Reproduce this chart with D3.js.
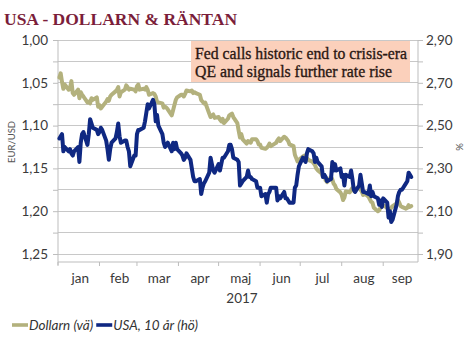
<!DOCTYPE html>
<html><head><meta charset="utf-8">
<script src="https://cdn.jsdelivr.net/npm/d3@7"></script>
<style>body{margin:0;background:#fff}svg{display:block}</style>
</head><body><svg id="c" width="475" height="348"></svg>
<script>
// ---- DATA ----
const dates = [
 "01-02","01-03","01-04","01-05","01-06","01-09","01-10","01-11","01-12","01-13","01-16","01-17","01-18","01-19","01-20","01-23","01-24","01-25","01-26","01-27","01-30","01-31",
 "02-01","02-02","02-03","02-06","02-07","02-08","02-09","02-10","02-13","02-14","02-15","02-16","02-17","02-20","02-21","02-22","02-23","02-24","02-27","02-28",
 "03-01","03-02","03-03","03-06","03-07","03-08","03-09","03-10","03-13","03-14","03-15","03-16","03-17","03-20","03-21","03-22","03-23","03-24","03-27","03-28","03-29","03-30","03-31",
 "04-03","04-04","04-05","04-06","04-07","04-10","04-11","04-12","04-13","04-14","04-17","04-18","04-19","04-20","04-21","04-24","04-25","04-26","04-27","04-28",
 "05-01","05-02","05-03","05-04","05-05","05-08","05-09","05-10","05-11","05-12","05-15","05-16","05-17","05-18","05-19","05-22","05-23","05-24","05-25","05-26","05-29","05-30","05-31",
 "06-01","06-02","06-05","06-06","06-07","06-08","06-09","06-12","06-13","06-14","06-15","06-16","06-19","06-20","06-21","06-22","06-23","06-26","06-27","06-28","06-29","06-30",
 "07-03","07-04","07-05","07-06","07-07","07-10","07-11","07-12","07-13","07-14","07-17","07-18","07-19","07-20","07-21","07-24","07-25","07-26","07-27","07-28","07-31",
 "08-01","08-02","08-03","08-04","08-07","08-08","08-09","08-10","08-11","08-14","08-15","08-16","08-17","08-18","08-21","08-22","08-23","08-24","08-25","08-28","08-29","08-30","08-31",
 "09-01","09-04","09-05","09-06","09-07","09-08","09-11","09-12","09-13","09-14","09-15","09-18","09-19","09-20","09-21","09-22"
];
const dollarn = [
 1.044,1.039,1.049,1.057,1.052,1.058,1.056,1.048,1.062,1.064,1.058,1.068,1.061,1.064,1.066,1.073,1.072,1.074,1.068,1.070,1.067,1.078,
 1.076,1.080,1.078,1.072,1.069,1.071,1.066,1.064,1.060,1.058,1.055,1.066,1.061,1.058,1.053,1.055,1.058,1.057,1.058,1.060,
 1.054,1.052,1.058,1.057,1.058,1.055,1.058,1.064,1.062,1.063,1.066,1.072,1.073,1.074,1.079,1.078,1.079,1.081,1.088,1.082,1.076,1.070,1.067,
 1.064,1.064,1.066,1.063,1.059,1.060,1.059,1.062,1.061,1.062,1.064,1.070,1.072,1.074,1.073,1.086,1.090,1.088,1.087,1.091,
 1.090,1.093,1.095,1.092,1.097,1.092,1.088,1.087,1.086,1.090,1.097,1.106,1.114,1.110,1.116,1.121,1.118,1.119,1.120,1.116,1.116,1.118,1.122,
 1.122,1.126,1.127,1.126,1.124,1.121,1.124,1.121,1.120,1.117,1.115,1.118,1.113,1.114,1.116,1.118,1.122,1.124,1.134,1.138,1.142,1.140,
 1.136,1.135,1.136,1.138,1.140,1.142,1.144,1.146,1.150,1.152,1.156,1.160,1.158,1.164,1.166,1.160,1.163,1.168,1.170,1.174,1.178,
 1.181,1.187,1.184,1.177,1.178,1.175,1.173,1.176,1.174,1.172,1.175,1.177,1.181,1.179,1.183,1.186,1.189,1.190,1.196,1.200,1.199,1.196,1.194,
 1.193,1.196,1.200,1.198,1.196,1.194,1.191,1.187,1.190,1.194,1.195,1.197,1.196,1.193,1.195,1.194
];
const usa10 = [
 2.44,2.45,2.46,2.38,2.40,2.38,2.39,2.37,2.36,2.38,2.40,2.33,2.42,2.46,2.47,2.41,2.46,2.53,2.51,2.49,2.48,2.46,
 2.47,2.49,2.48,2.43,2.39,2.34,2.39,2.42,2.44,2.47,2.51,2.45,2.42,2.43,2.43,2.40,2.38,2.31,2.36,2.36,
 2.46,2.48,2.48,2.49,2.52,2.56,2.60,2.58,2.62,2.60,2.52,2.55,2.50,2.46,2.42,2.40,2.41,2.42,2.38,2.42,2.39,2.42,2.39,
 2.37,2.36,2.34,2.35,2.37,2.34,2.30,2.26,2.24,2.24,2.25,2.18,2.21,2.23,2.24,2.28,2.35,2.32,2.29,2.28,
 2.32,2.29,2.32,2.35,2.35,2.38,2.41,2.41,2.39,2.35,2.34,2.33,2.22,2.23,2.24,2.26,2.29,2.26,2.26,2.25,2.24,2.21,2.21,
 2.21,2.17,2.18,2.14,2.18,2.19,2.21,2.21,2.21,2.15,2.17,2.16,2.19,2.16,2.16,2.15,2.14,2.14,2.21,2.22,2.27,2.31,
 2.35,2.34,2.33,2.37,2.39,2.38,2.37,2.33,2.35,2.33,2.31,2.26,2.27,2.26,2.24,2.25,2.33,2.29,2.32,2.29,2.30,
 2.26,2.27,2.22,2.27,2.26,2.29,2.25,2.20,2.19,2.22,2.27,2.23,2.19,2.19,2.18,2.22,2.17,2.19,2.17,2.16,2.13,2.15,2.12,
 2.16,2.14,2.07,2.10,2.05,2.06,2.13,2.17,2.19,2.20,2.20,2.23,2.24,2.28,2.27,2.26
];
const leftTicks = [1.00,1.05,1.10,1.15,1.20,1.25];
const rightTicks = [2.90,2.70,2.50,2.30,2.10,1.90];
const monthLabels = ["jan","feb","mar","apr","maj","jun","jul","aug","sep"];
const yearLabel = "2017";
const seriesNames = ["Dollarn (vä)","USA, 10 år (hö)"];
const titleText = "USA - DOLLARN & RÄNTAN";
const noteLines = ["Fed calls historic end to crisis-era","QE and signals further rate rise"];

// ---- LAYOUT ----
const L = 58, R = 418, T = 40, B254 = 254, BOT = 262;
const cKhaki = "#B3B17D", cNavy = "#0F2882";
const grid = "#c8c8c8", axisC = "#bdbdbd", txt = "#3a3a3a";
const font = "Lato, 'Open Sans', sans-serif";

const svg = d3.select("#c");
const parse = d3.timeParse("%Y-%m-%d");
const D = dates.map(s => parse("2017-" + s));

const x0 = new Date(2017,0,1), x1 = new Date(2017,8,27);
const x = d3.scaleTime().domain([x0, x1]).range([L, R]);
const yL = d3.scaleLinear().domain([1.00, 1.25]).range([T, B254]);
const yR = d3.scaleLinear().domain([2.90, 1.90]).range([T, B254]);

// title
svg.append("text").attr("x", 4).attr("y", 25)
  .attr("font-family", "'Liberation Serif', serif").attr("font-weight", "bold")
  .attr("font-size", 17.5).attr("fill", "#7B1E3A").text(titleText);

// gridlines
const minor = d3.range(0, 11).map(i => 1 + i * 0.025);
svg.append("g").selectAll("line").data(minor).join("line")
  .attr("x1", L).attr("x2", R).attr("y1", d => yL(d)).attr("y2", d => yL(d))
  .attr("stroke", grid).attr("stroke-width", 1).attr("shape-rendering", "crispEdges");

// left axis
const gl = svg.append("g").attr("transform", `translate(${L},0)`)
  .call(d3.axisLeft(yL).tickValues(minor).tickSize(5).tickFormat(""));
gl.select(".domain").remove();
gl.selectAll("line").attr("stroke", axisC);
svg.append("line").attr("x1", L).attr("x2", L).attr("y1", T).attr("y2", BOT + 3).attr("stroke", axisC);
svg.append("g").selectAll("text").data(leftTicks).join("text")
  .attr("x", 48).attr("y", d => yL(d)).attr("dy", "0.35em").attr("text-anchor", "end")
  .attr("font-family", font).attr("font-size", 13.5).attr("fill", txt)
  .text(d => d3.format(".2f")(d).replace(".", ","));

// right axis
const gr = svg.append("g").attr("transform", `translate(${R},0)`)
  .call(d3.axisRight(yR).tickValues(d3.range(0, 11).map(i => 2.9 - i * 0.1)).tickSize(5).tickFormat(""));
gr.select(".domain").remove();
gr.selectAll("line").attr("stroke", axisC);
svg.append("line").attr("x1", R).attr("x2", R).attr("y1", T).attr("y2", BOT).attr("stroke", axisC);
svg.append("g").selectAll("text").data(rightTicks).join("text")
  .attr("x", 426).attr("y", d => yR(d)).attr("dy", "0.35em").attr("text-anchor", "start")
  .attr("font-family", font).attr("font-size", 13.5).attr("fill", txt)
  .text(d => d3.format(".2f")(d).replace(".", ","));

// axis titles
svg.append("text").attr("transform", "translate(15,142) rotate(-90)").attr("text-anchor", "middle")
  .attr("font-family", font).attr("font-size", 9.5).attr("fill", "#555").text("EUR/USD");
svg.append("text").attr("transform", "translate(463,147) rotate(-90)").attr("text-anchor", "middle")
  .attr("font-family", font).attr("font-size", 9.5).attr("fill", "#555").text("%");

// bottom axis
svg.append("line").attr("x1", L).attr("x2", R).attr("y1", BOT).attr("y2", BOT).attr("stroke", axisC);
const mStarts = d3.timeMonth.range(x0, new Date(2017,9,1));
svg.append("g").selectAll("line").data(mStarts).join("line")
  .attr("x1", d => x(d)).attr("x2", d => x(d)).attr("y1", BOT).attr("y2", BOT + 4).attr("stroke", axisC);
svg.append("g").selectAll("text").data(monthLabels).join("text")
  .attr("x", (d, i) => {
    const a = x(mStarts[i]);
    const b = i + 1 < mStarts.length ? x(mStarts[i + 1]) : R;
    return (a + b) / 2 + 1.5;
  })
  .attr("y", 283).attr("text-anchor", "middle")
  .attr("font-family", font).attr("font-size", 13.5).attr("fill", txt).text(d => d);
svg.append("text").attr("x", 242).attr("y", 303).attr("text-anchor", "middle")
  .attr("font-family", font).attr("font-size", 13.5).attr("fill", txt).text(yearLabel);

// annotation box
svg.append("rect").attr("x", 191).attr("y", 41).attr("width", 219).attr("height", 41).attr("fill", "#FBD0BB");
noteLines.forEach((s, i) => {
  svg.append("text").attr("x", 195).attr("y", 59 + i * 17.5)
    .attr("font-family", "'Liberation Serif', serif").attr("font-size", 17)
    .attr("fill", "#2a1712").attr("stroke", "#2a1712").attr("stroke-width", 0.35)
    .attr("textLength", i === 0 ? 212 : 197).attr("lengthAdjust", "spacingAndGlyphs").text(s);
});

// lines
const dataD = D.map((d, i) => ({ date: d, v: dollarn[i] }));
const dataU = D.map((d, i) => ({ date: d, v: usa10[i] }));
svg.append("path").datum(dataD)
  .attr("d", d3.line().x(d => x(d.date)).y(d => yL(d.v)))
  .attr("fill", "none").attr("stroke", cKhaki).attr("stroke-width", 4)
  .attr("stroke-linejoin", "round").attr("stroke-linecap", "round");
svg.append("path").datum(dataU)
  .attr("d", d3.line().x(d => x(d.date)).y(d => yR(d.v)))
  .attr("fill", "none").attr("stroke", cNavy).attr("stroke-width", 4)
  .attr("stroke-linejoin", "round").attr("stroke-linecap", "round");

// legend
let lx = 12; const ly = 325;
[[seriesNames[0], cKhaki], [seriesNames[1], cNavy]].forEach(([name, c]) => {
  svg.append("line").attr("x1", lx).attr("x2", lx + 16).attr("y1", ly).attr("y2", ly)
    .attr("stroke", c).attr("stroke-width", 3.6);
  const t = svg.append("text").attr("x", lx + 17).attr("y", ly + 5)
    .attr("font-family", font).attr("font-style", "italic").attr("font-size", 13.5)
    .attr("fill", "#333").text(name);
  lx += 17 + t.node().getComputedTextLength() + 3;
});
</script>
</body></html>
